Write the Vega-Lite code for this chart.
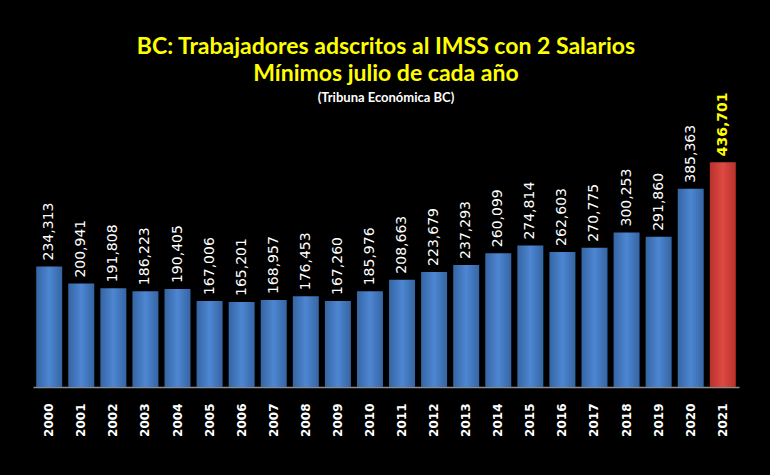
{
  "$schema": "https://vega.github.io/schema/vega-lite/v6.json",
  "autosize": {"type": "none"},
  "width": 706,
  "height": 266,
  "padding": {"left": 33, "top": 121, "right": 31, "bottom": 88},
  "background": "#000000",
  "config": {"view": {"stroke": null}},
  "title": {
    "text": ["BC: Trabajadores adscritos al IMSS con 2 Salarios", "Mínimos julio de cada año"],
    "subtitle": "(Tribuna Económica BC)",
    "color": "#ffff00",
    "font": "Lato",
    "fontWeight": "bold",
    "fontSize": 23,
    "lineHeight": 27,
    "subtitleColor": "#ffffff",
    "subtitleFont": "Lato",
    "subtitleFontWeight": "bold",
    "subtitleFontSize": 13,
    "subtitlePadding": 6,
    "anchor": "middle",
    "offset": -12
  },
  "data": {
    "values": [
      {"year": "2000", "value": 234313, "group": "past"},
      {"year": "2001", "value": 200941, "group": "past"},
      {"year": "2002", "value": 191808, "group": "past"},
      {"year": "2003", "value": 186223, "group": "past"},
      {"year": "2004", "value": 190405, "group": "past"},
      {"year": "2005", "value": 167006, "group": "past"},
      {"year": "2006", "value": 165201, "group": "past"},
      {"year": "2007", "value": 168957, "group": "past"},
      {"year": "2008", "value": 176453, "group": "past"},
      {"year": "2009", "value": 167260, "group": "past"},
      {"year": "2010", "value": 185976, "group": "past"},
      {"year": "2011", "value": 208663, "group": "past"},
      {"year": "2012", "value": 223679, "group": "past"},
      {"year": "2013", "value": 237293, "group": "past"},
      {"year": "2014", "value": 260099, "group": "past"},
      {"year": "2015", "value": 274814, "group": "past"},
      {"year": "2016", "value": 262603, "group": "past"},
      {"year": "2017", "value": 270775, "group": "past"},
      {"year": "2018", "value": 300253, "group": "past"},
      {"year": "2019", "value": 291860, "group": "past"},
      {"year": "2020", "value": 385363, "group": "past"},
      {"year": "2021", "value": 436701, "group": "current"}
    ]
  },
  "encoding": {
    "x": {
      "field": "year",
      "type": "ordinal",
      "scale": {"paddingInner": 0.19, "paddingOuter": 0.1},
      "axis": {
        "title": null,
        "labelAngle": -90,
        "labelAlign": "right",
        "labelBaseline": "middle",
        "labelPadding": 16,
        "labelColor": "#ffffff",
        "labelFont": "DejaVu Sans",
        "labelFontWeight": "bold",
        "labelFontSize": 12,
        "ticks": false,
        "domainColor": "#8c8c8c",
        "domainWidth": 1.5
      }
    },
    "y": {
      "field": "value",
      "type": "quantitative",
      "scale": {"domain": [0, 517000]},
      "axis": null
    }
  },
  "layer": [
    {
      "transform": [{"filter": "datum.group === 'past'"}],
      "mark": {
        "type": "bar",
        "color": {
          "gradient": "linear",
          "x1": 0, "y1": 0, "x2": 1, "y2": 0,
          "stops": [
            {"offset": 0, "color": "#3565a3"},
            {"offset": 0.5, "color": "#4d86d2"},
            {"offset": 1, "color": "#3565a3"}
          ]
        }
      }
    },
    {
      "transform": [{"filter": "datum.group === 'current'"}],
      "mark": {
        "type": "bar",
        "color": {
          "gradient": "linear",
          "x1": 0, "y1": 0, "x2": 1, "y2": 0,
          "stops": [
            {"offset": 0, "color": "#b8312c"},
            {"offset": 0.5, "color": "#de4a42"},
            {"offset": 1, "color": "#b8312c"}
          ]
        }
      }
    },
    {
      "transform": [{"filter": "datum.group === 'past'"}],
      "mark": {
        "type": "text",
        "angle": -90,
        "align": "left",
        "baseline": "middle",
        "dx": 6,
        "font": "DejaVu Sans",
        "fontSize": 14,
        "color": "#ffffff"
      },
      "encoding": {
        "text": {"field": "value", "type": "quantitative", "format": ",d"}
      }
    },
    {
      "transform": [{"filter": "datum.group === 'current'"}],
      "mark": {
        "type": "text",
        "angle": -90,
        "align": "left",
        "baseline": "middle",
        "dx": 6,
        "font": "DejaVu Sans",
        "fontWeight": "bold",
        "fontSize": 14,
        "color": "#ffff00"
      },
      "encoding": {
        "text": {"field": "value", "type": "quantitative", "format": ",d"}
      }
    }
  ]
}
